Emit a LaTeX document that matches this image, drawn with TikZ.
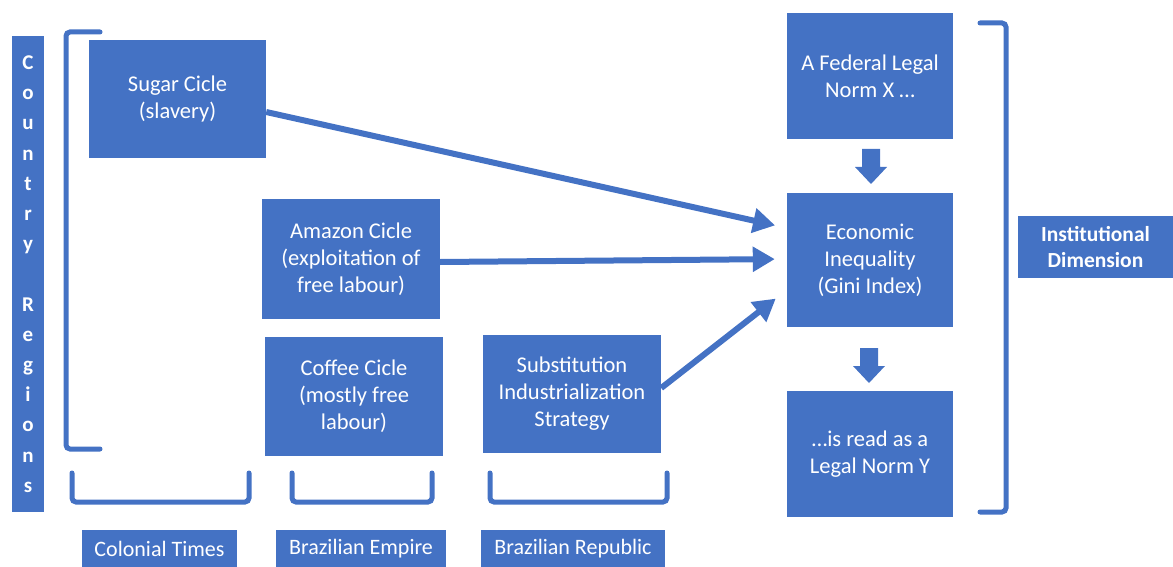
\documentclass[tikz,border=0pt]{standalone}
\usepackage{fontspec}
\setmainfont{Carlito}
\usetikzlibrary{arrows.meta,calc}
\definecolor{boxblue}{RGB}{68,114,196}
\tikzset{
  box/.style={fill=boxblue,text=white,align=center,inner sep=2pt,
    font=\fontsize{22.5}{27}\selectfont},
  lab/.style={fill=boxblue,text=white,align=center,inner sep=2pt,
    font=\fontsize{22}{26}\selectfont},
  conn/.style={draw=boxblue,line width=6pt,-{Triangle[length=22pt,width=24pt]}},
  brk/.style={draw=boxblue,line width=5pt,line cap=round,rounded corners=4pt},
  blockarrow/.style={fill=boxblue}
}
\begin{document}
\begin{tikzpicture}[x=1pt,y=-1pt]
\useasboundingbox (0,0) rectangle (1173,567);
% nodes
\node[box,minimum width=32pt,minimum height=476pt,inner sep=0pt,
  font=\bfseries\fontsize{21}{30.2}\selectfont] (country) at (28,274)
  {C\\o\\u\\n\\t\\r\\y\\[30.2pt]R\\e\\g\\i\\o\\n\\s};
\node[box,minimum width=177pt,minimum height=118pt] (sugar) at (177.5,99) {Sugar Cicle\\(slavery)};
\node[box,minimum width=178pt,minimum height=120pt] (amazon) at (351,259) {Amazon Cicle\\(exploitation of\\free labour)};
\node[box,minimum width=178pt,minimum height=119pt] (coffee) at (354,396.5) {Coffee Cicle\\(mostly free\\labour)};
\node[box,minimum width=178pt,minimum height=118pt] (subst) at (572,394) {Substitution\\Industrialization\\Strategy};
\node[box,minimum width=166pt,minimum height=126pt] (federal) at (870,76) {A Federal Legal\\Norm X \dots};
\node[box,minimum width=166pt,minimum height=134pt] (econ) at (870,260) {Economic\\Inequality\\(Gini Index)};
\node[box,minimum width=166pt,minimum height=126pt] (normy) at (870,454) {\dots is read as a\\Legal Norm Y};
\node[lab,minimum width=155pt,minimum height=62pt,font=\bfseries\fontsize{21.5}{26}\selectfont] (inst) at (1095.5,247) {Institutional\\Dimension};
\node[lab,minimum width=155pt,minimum height=37pt] (colonial) at (159.5,548.5) {Colonial Times};
\node[lab,minimum width=170pt,minimum height=37pt] (empire) at (361,548.5) {Brazilian Empire};
\node[lab,minimum width=184pt,minimum height=37pt] (republic) at (573,548.5) {Brazilian Republic};
% connectors
\draw[conn,shorten >=12pt] ($(sugar.east)+(0,13)$) -- ($(econ.west)+(0,-32)$);
\draw[conn,shorten >=12pt] ($(amazon.east)+(0,3)$) -- ($(econ.west)+(0,-1)$);
\draw[conn,shorten >=14pt] ($(subst.east)+(0,-6)$) -- ($(econ.west)+(0,30)$);
% block arrows
\fill[blockarrow] (862,149) -- (880,149) -- (880,167) -- (887,167) -- (871,184) -- (855,167) -- (862,167) -- cycle;
\fill[blockarrow] (860,348) -- (878,348) -- (878,366) -- (885,366) -- (869,383) -- (853,366) -- (860,366) -- cycle;
% brackets
\draw[brk] (100,32) -- (66,32) -- (66,449) -- (100,449);
\draw[brk] (980,23) -- (1006,23) -- (1006,512) -- (980,512);
\draw[brk] (72,473) -- (72,502) -- (249,502) -- (249,473);
\draw[brk] (292,473) -- (292,502) -- (432,502) -- (432,473);
\draw[brk] (490,473) -- (490,502) -- (667,502) -- (667,473);
\end{tikzpicture}
\end{document}
